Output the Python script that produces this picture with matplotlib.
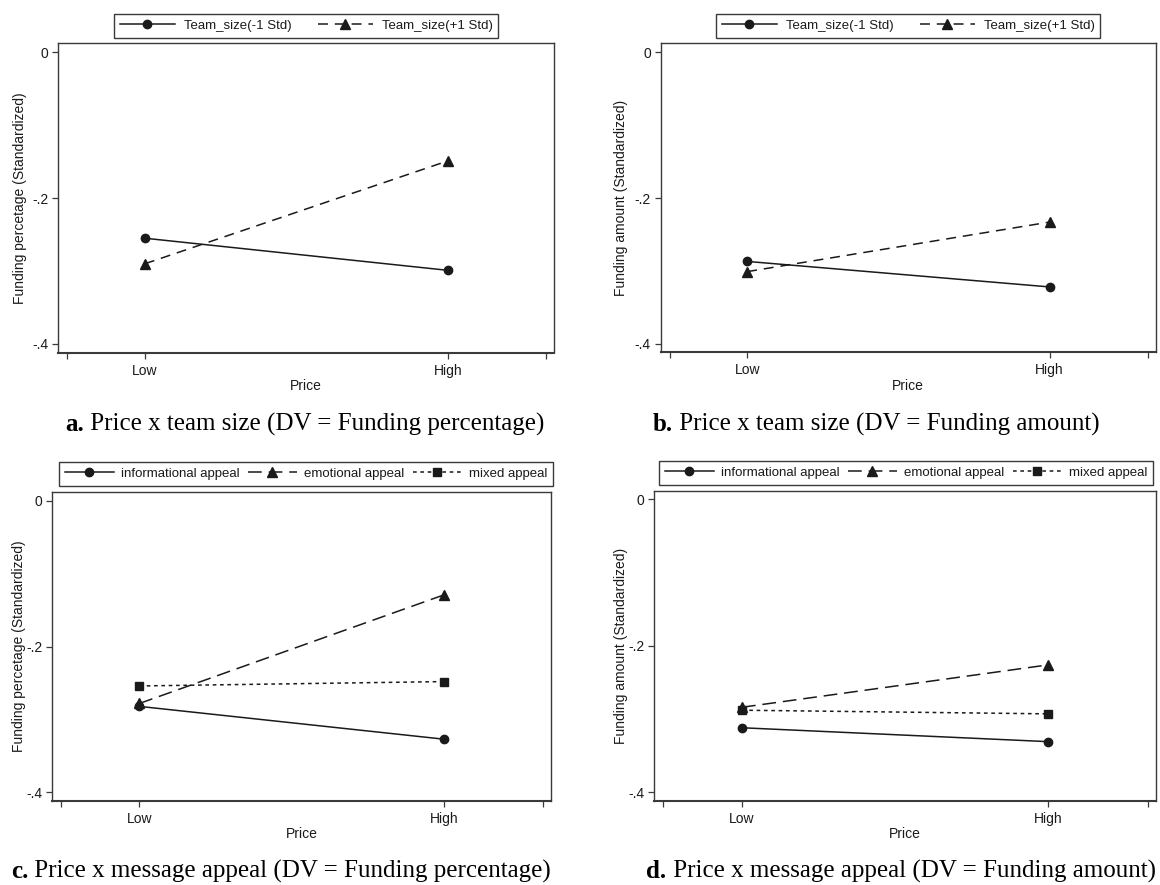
#!/usr/bin/env python
"""
Interaction plots: price x team size and price x message appeal,
for funding percentage and funding amount (standardized margins).
"""
import matplotlib
matplotlib.use("Agg")
from matplotlib import pyplot as plt

plt.rcParams['font.family'] = ['Liberation Sans', 'DejaVu Sans']

# ---- data ----
price_levels = ["Low", "High"]
price_x = [1, 2]

team_labels = ["Team_size(-1 Std)", "Team_size(+1 Std)"]
pct_team_minus = [-0.255, -0.299]
pct_team_plus = [-0.290, -0.149]
amt_team_minus = [-0.287, -0.322]
amt_team_plus = [-0.301, -0.233]

appeal_labels = ["informational appeal", "emotional appeal", "mixed appeal"]
pct_informational = [-0.282, -0.327]
pct_emotional = [-0.278, -0.129]
pct_mixed = [-0.254, -0.248]
amt_informational = [-0.312, -0.331]
amt_emotional = [-0.284, -0.226]
amt_mixed = [-0.288, -0.293]

y_ticks = [0, -0.2, -0.4]
y_tick_labels = ["0", "-.2", "-.4"]
x_range_ticks = [0.744, 2.324]

caption_tags = ["a.", "b.", "c.", "d."]
caption_texts = [
    " Price x team size (DV = Funding percentage)",
    " Price x team size (DV = Funding amount)",
    " Price x message appeal (DV = Funding percentage)",
    " Price x message appeal (DV = Funding amount)",
]

INK = "#1a1a1a"
FRAME = "#3a3a3a"
W, H = 1160.0, 885.0

fig = plt.figure(figsize=(11.6, 8.85), dpi=100)


def draw_panel(box, series, labels, styles, ylabel, ylabel_x, legend_cx, legend_bottom, legend_kw):
	"""
	Draws one Stata-like interaction panel.

	:param box: (left, top, right, bottom) of the plot region in pixels
	:param series: list of y value lists
	:param labels: legend labels
	:param styles: list of (marker, markersize, dashes)
	:return: axes
	"""
	left, top, right, bottom = box
	ax = fig.add_axes([left / W, 1 - bottom / H, (right - left) / W, (bottom - top) / H])

	for vals, lab, (mk, ms, dash) in zip(series, labels, styles):
		line, = ax.plot(price_x, vals, color=INK, lw=1.1, marker=mk, ms=ms,
		                markerfacecolor=INK, markeredgecolor=INK, label=lab)
		if dash is not None:
			line.set_dashes(dash)

	ax.set_xlim(0.714, 2.351)
	ax.set_ylim(-0.4117, 0.0123)
	ax.set_xticks([x_range_ticks[0]] + price_x + [x_range_ticks[1]])
	ax.set_xticklabels([""] + price_levels + [""])
	ax.set_yticks(y_ticks)
	ax.set_yticklabels(y_tick_labels)
	ax.tick_params(direction='out', length=4, width=0.9, color=FRAME,
	               labelsize=10, pad=3, labelcolor=INK)
	ax.tick_params(axis='x', pad=4)

	for side in ax.spines:
		ax.spines[side].set_color(FRAME)
		ax.spines[side].set_linewidth(1.0)
	ax.spines['bottom'].set_linewidth(1.5)

	ax.set_xlabel("Price", fontsize=10, color=INK, labelpad=1)
	ax.set_ylabel(ylabel, fontsize=10, color=INK)
	ax.yaxis.set_label_coords(ylabel_x, 0.5)

	leg = ax.legend(loc='lower center', bbox_to_anchor=(legend_cx / W, 1 - legend_bottom / H),
	                bbox_transform=fig.transFigure, borderaxespad=0, numpoints=1,
	                fontsize=9.5, fancybox=False, framealpha=1, edgecolor=FRAME,
	                borderpad=0.45, **legend_kw)
	leg.get_frame().set_linewidth(1.0)
	for t in leg.get_texts():
		t.set_color(INK)
	return ax


team_styles = [('o', 6, None), ('^', 6.5, (6.5, 4.5))]
appeal_styles = [('o', 6, None), ('^', 6.5, (9, 4.5)), ('s', 5.8, (2.4, 2.4))]

team_kw = dict(ncol=2, handlelength=4.2, handletextpad=0.65, columnspacing=2.0)
appeal_kw = dict(ncol=3, handlelength=3.7, handletextpad=0.55, columnspacing=0.65)

draw_panel((58.3, 43.3, 554.0, 352.5), [pct_team_minus, pct_team_plus], team_labels,
           team_styles, "Funding percetage (Standardized)", -0.064, 306, 37.7, team_kw)
draw_panel((660.7, 43.3, 1155.7, 352.3), [amt_team_minus, amt_team_plus], team_labels,
           team_styles, "Funding amount (Standardized)", -0.066, 908, 37.7, team_kw)
draw_panel((52.2, 491.7, 551.2, 801.0), [pct_informational, pct_emotional, pct_mixed],
           appeal_labels, appeal_styles, "Funding percetage (Standardized)", -0.0525, 306, 485.7, appeal_kw)
draw_panel((654.3, 490.5, 1156.0, 800.7), [amt_informational, amt_emotional, amt_mixed],
           appeal_labels, appeal_styles, "Funding amount (Standardized)", -0.0524, 906, 485.0, appeal_kw)

# captions: bold tag followed by regular text, centred as one line
renderer = fig.canvas.get_renderer()
caption_pos = [(305, 431), (876, 431), (281, 878), (901, 878)]
for tag, text, (cx, base) in zip(caption_tags, caption_texts, caption_pos):
	t1 = fig.text(0, 1 - base / H, tag, ha='left', va='baseline', fontsize=18,
	              family='Liberation Serif', weight='bold', color='black')
	t2 = fig.text(0, 1 - base / H, text, ha='left', va='baseline', fontsize=18,
	              family='Liberation Serif', color='black')
	w1 = t1.get_window_extent(renderer).width
	w2 = t2.get_window_extent(renderer).width
	x0 = cx - (w1 + w2) / 2.0
	t1.set_x(x0 / W)
	t2.set_x((x0 + w1) / W)

fig.savefig("out.png", dpi=100)
